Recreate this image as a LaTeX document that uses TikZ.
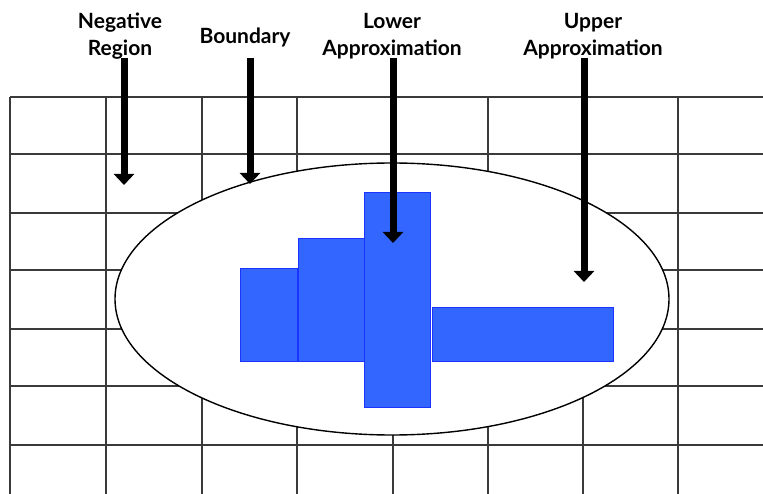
\documentclass[tikz,border=0pt]{standalone}
\usepackage{fontspec}
\setmainfont{Lato}
\usetikzlibrary{arrows.meta,shapes.geometric}
\definecolor{gridc}{HTML}{3A3A3A}
\definecolor{setblue}{HTML}{3366FF}
\definecolor{setedge}{HTML}{1A33FF}
\tikzset{
  gridline/.style={draw=gridc, line width=1.2pt},
  roughset/.style={draw=black, line width=1.4pt, fill=white},
  cellbox/.style={draw=setedge, line width=1pt, fill=setblue},
  pointer/.style={line width=7pt, -{Triangle[width=20pt,length=11pt]}},
  lab/.style={font=\fontsize{21}{27}\selectfont\bfseries, align=center, inner sep=0pt}
}
\begin{document}
\begin{tikzpicture}[x=1pt,y=-1pt]
\useasboundingbox (0,0) rectangle (763,494);
% grid
\foreach \yy in {97,154,213,270,329,386,445}
  \draw[gridline] (10,\yy) -- (763,\yy);
\foreach \xx in {10,106,202,297,393,488,583,678}
  \draw[gridline] (\xx,97) -- (\xx,494);
% ellipse (boundary of the set)
\node[roughset, ellipse, minimum width=554pt, minimum height=272pt, inner sep=0pt] (set) at (392,299) {};
% lower approximation cells
\path[cellbox] (240,269) rectangle (297,361);
\path[cellbox] (298,239) rectangle (364,361);
\path[cellbox] (364,193) rectangle (430,407);
\path[cellbox] (432,308) rectangle (613,361);
% labels
\node[lab] (neg) at (120,36) {Negative\\Region};
\node[lab] (bnd) at (245,37) {Boundary};
\node[lab] (low) at (392,36) {Lower\\Approximation};
\node[lab] (upp) at (593,36) {Upper\\Approximation};
% arrows
\coordinate (negs) at (124,58);  \coordinate (nege) at (124,185);
\coordinate (bnds) at (250,58);  \coordinate (bnde) at (250,184);
\coordinate (lows) at (393,58);  \coordinate (lowe) at (393,243);
\coordinate (upps) at (584,58);  \coordinate (uppe) at (584,282);
\draw[pointer] (negs) -- (nege);
\draw[pointer] (bnds) -- (bnde);
\draw[pointer] (lows) -- (lowe);
\draw[pointer] (upps) -- (uppe);
\end{tikzpicture}
\end{document}
